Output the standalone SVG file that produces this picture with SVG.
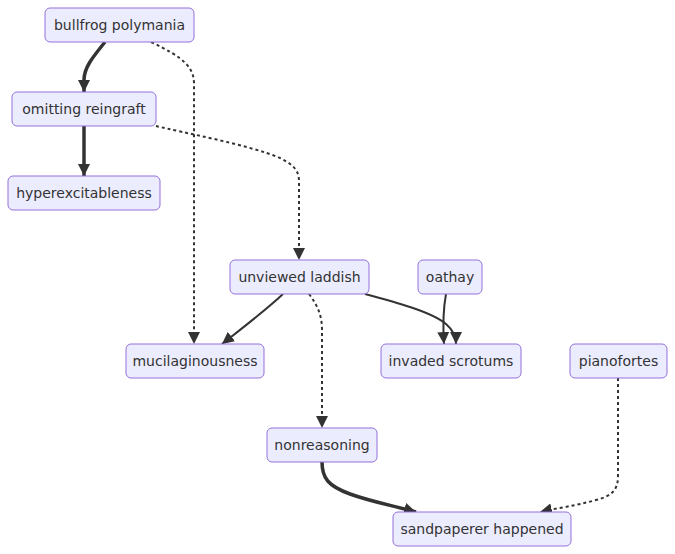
<svg xmlns="http://www.w3.org/2000/svg" width="675" height="554" viewBox="0 0 675 554">
<style>
.node rect{fill:#ECECFF;stroke:#9370DB;stroke-width:1}
.node text{font-family:"DejaVu Sans",Verdana,sans-serif;font-size:14px;fill:#333;text-anchor:middle;dominant-baseline:central}
.e{fill:none;stroke:#333;stroke-width:2}
.thick{stroke-width:3.5}
.dot{stroke-dasharray:3 3}
</style>
<defs>
<marker id="ah" viewBox="0 0 10 10" refX="10" refY="5" markerUnits="userSpaceOnUse" markerWidth="12" markerHeight="12" orient="auto">
<path d="M0,0 L10,5 L0,10 z" fill="#333"/>
</marker>
</defs>
<g id="connectors">
<path class="e thick" d="M105,42 C92,58 84,68 84,80 L84,92" marker-end="url(#ah)"/>
<path class="e thick" d="M84,126 L84,176" marker-end="url(#ah)"/>
<path class="e dot" d="M151,42 C185,58 194,68 194,84 L194,344" marker-end="url(#ah)"/>
<path class="e dot" d="M156,126 C180,132 250,145 280,158 C296,166 299,172 299,182 L299,260" marker-end="url(#ah)"/>
<path class="e" d="M283,294 C266,310 245,326 222,344" marker-end="url(#ah)"/>
<path class="e dot" d="M309,294 C318,306 322,316 322,330 L322,428" marker-end="url(#ah)"/>
<path class="e" d="M365,294 C395,302 432,312 446,324 C453,330 456,336 456,344" marker-end="url(#ah)"/>
<path class="e" d="M446,294 C443,310 443,328 444,344" marker-end="url(#ah)"/>
<path class="e thick" d="M322,462 C322,478 328,486 350,494 C372,502 395,506 416,512" marker-end="url(#ah)"/>
<path class="e dot" d="M618,378 L618,476 C618,490 612,496 596,500 C575,506 557,508 540,512" marker-end="url(#ah)"/>
</g>
<g id="bullfrog" class="node"><rect x="45" y="8" width="149" height="34" rx="5"/><text x="119.5" y="25">bullfrog polymania</text></g>
<g id="omitting" class="node"><rect x="12" y="92" width="144" height="34" rx="5"/><text x="84" y="109">omitting reingraft</text></g>
<g id="hyper" class="node"><rect x="8" y="176" width="152" height="34" rx="5"/><text x="84" y="193">hyperexcitableness</text></g>
<g id="unviewed" class="node"><rect x="230" y="260" width="139" height="34" rx="5"/><text x="299.5" y="277">unviewed laddish</text></g>
<g id="oathay" class="node"><rect x="418" y="260" width="64" height="34" rx="5"/><text x="450" y="277">oathay</text></g>
<g id="mucil" class="node"><rect x="126" y="344" width="138" height="34" rx="5"/><text x="195" y="361">mucilaginousness</text></g>
<g id="invaded" class="node"><rect x="381" y="344" width="140" height="34" rx="5"/><text x="451" y="361">invaded scrotums</text></g>
<g id="piano" class="node"><rect x="570" y="344" width="97" height="34" rx="5"/><text x="618.5" y="361">pianofortes</text></g>
<g id="nonreasoning" class="node"><rect x="267" y="428" width="110" height="34" rx="5"/><text x="322" y="445">nonreasoning</text></g>
<g id="sandpaperer" class="node"><rect x="393" y="512" width="178" height="34" rx="5"/><text x="482" y="529">sandpaperer happened</text></g>
</svg>
